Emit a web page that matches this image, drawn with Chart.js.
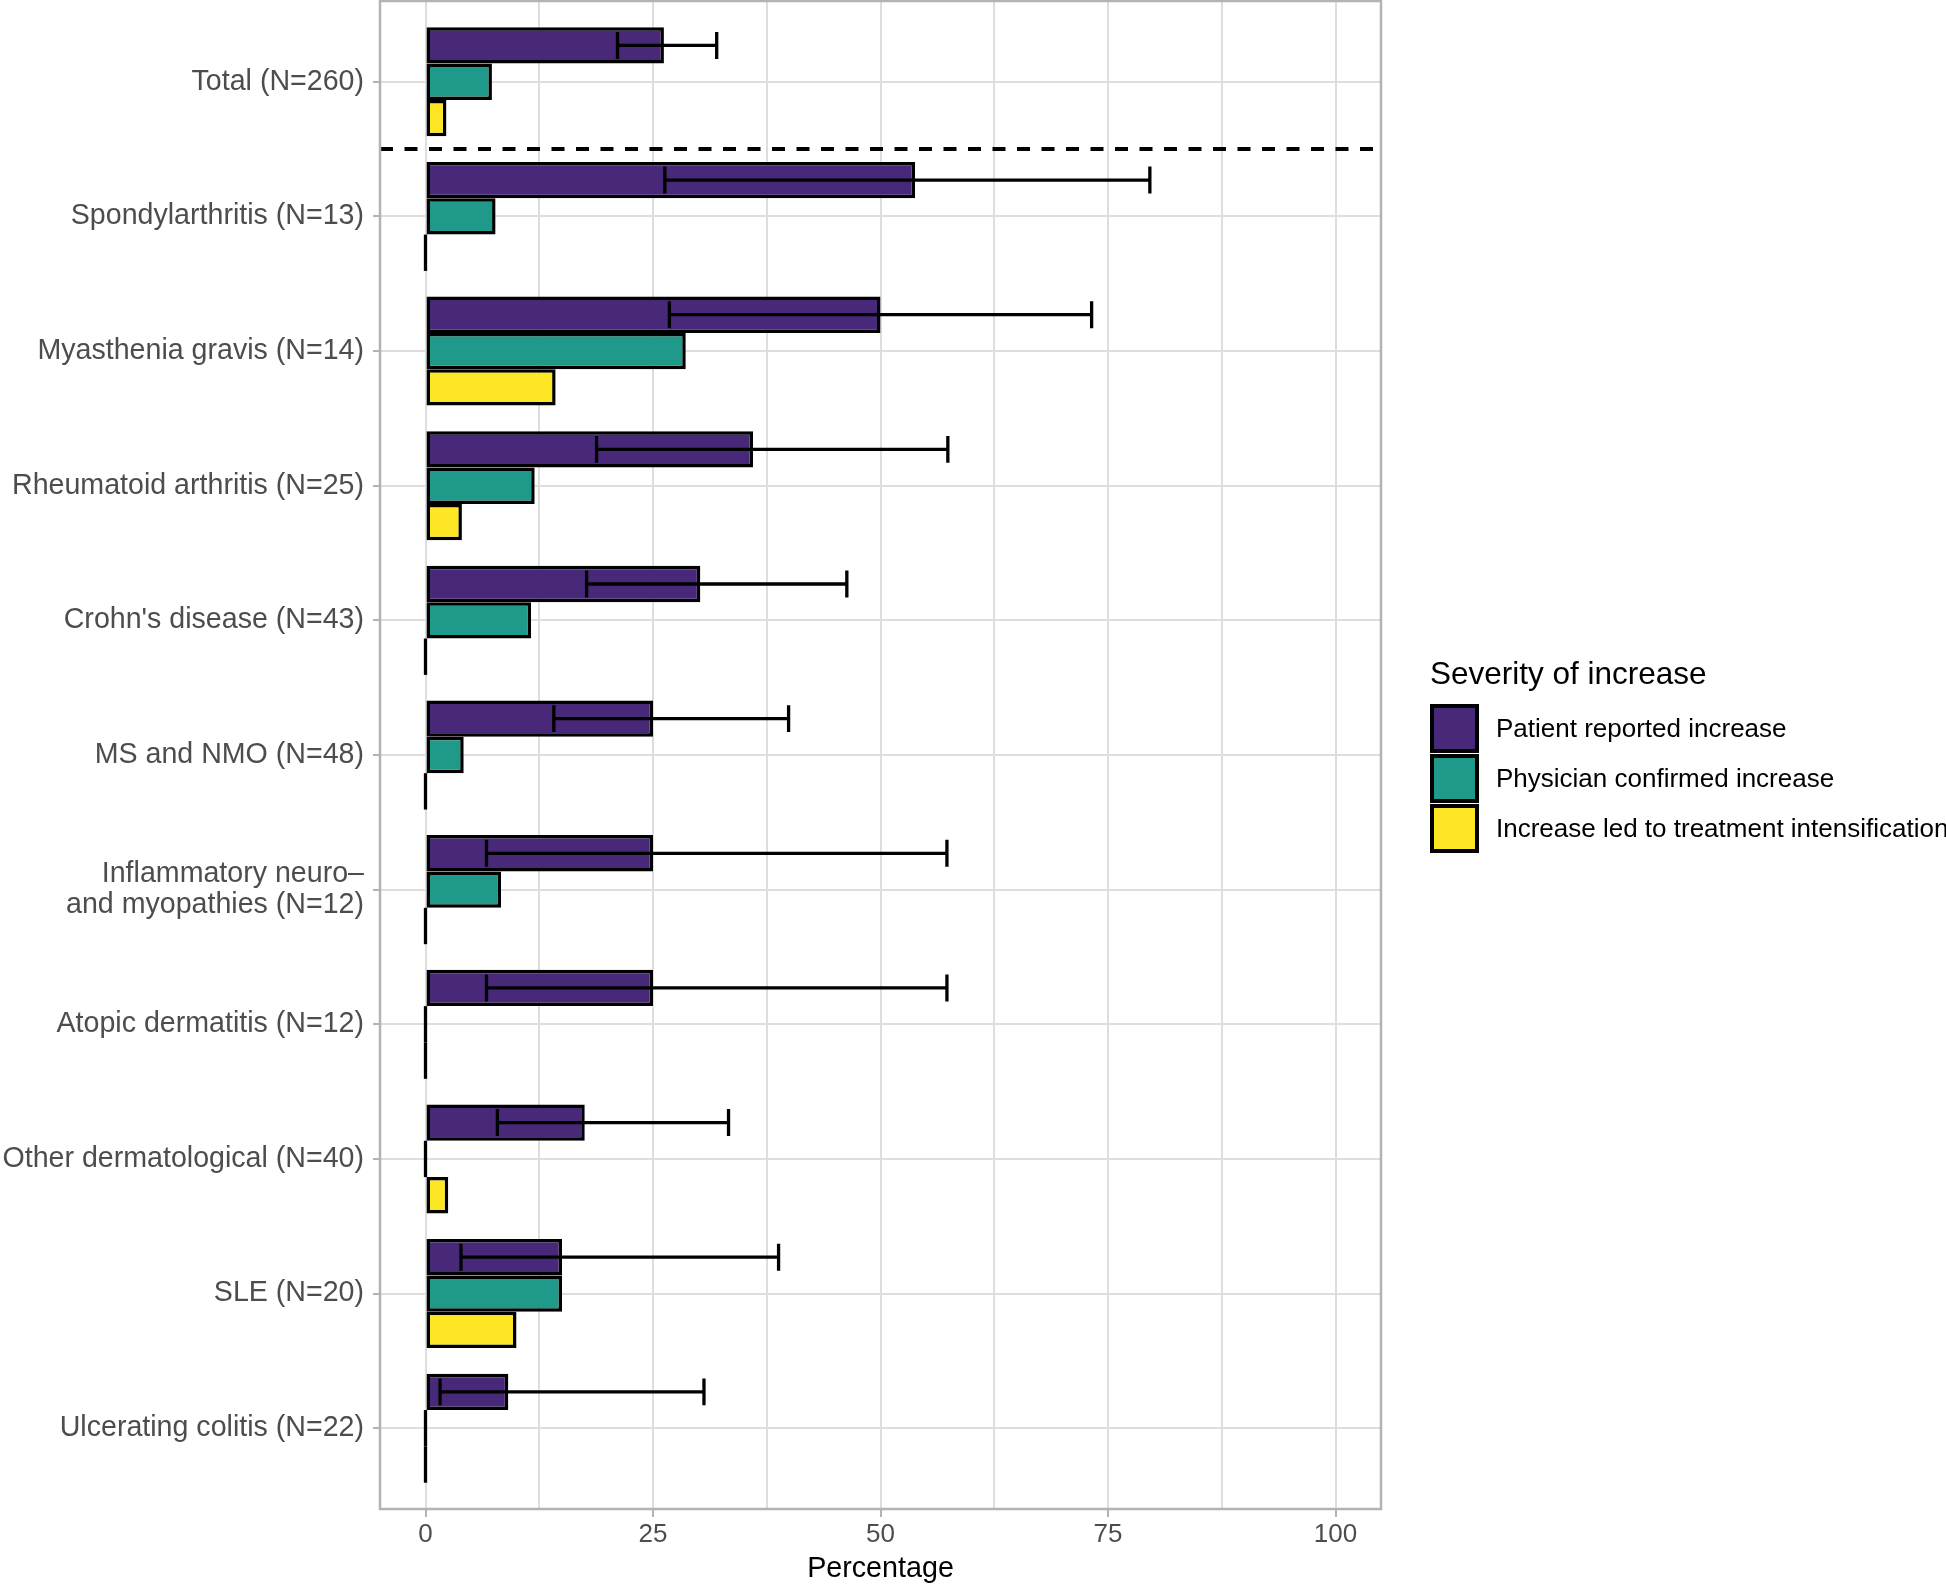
<!DOCTYPE html>
<html>
<head>
<meta charset="utf-8">
<script src="https://cdn.jsdelivr.net/npm/chart.js@4.4.1/dist/chart.umd.min.js"></script>
<style>
  body { margin: 0; background: #fff; font-family: "Liberation Sans", Arial, sans-serif; }
  #wrap { position: relative; width: 1946px; height: 1586px; }
  #legend { position: absolute; left: 1430px; top: 653px; color: #000; white-space: nowrap; }
  #legend .title { font-size: 31.5px; line-height: 40px; margin-bottom: 10px; }
  #legend .row { display: flex; align-items: center; height: 50px; }
  #legend .key { box-sizing: border-box; width: 49px; height: 49px; border: 4px solid #000; margin-right: 17px; }
  #legend .lab { font-size: 26px; }
</style>
</head>
<body>
<div id="wrap">
  <canvas id="chart" width="1946" height="1586"></canvas>
  <div id="legend"></div>
</div>
<script>
const categories = [
  "Total (N=260)",
  "Spondylarthritis (N=13)",
  "Myasthenia gravis (N=14)",
  "Rheumatoid arthritis (N=25)",
  "Crohn's disease (N=43)",
  "MS and NMO (N=48)",
  ["Inflammatory neuro–", "and myopathies (N=12)"],
  "Atopic dermatitis (N=12)",
  "Other dermatological (N=40)",
  "SLE (N=20)",
  "Ulcerating colitis (N=22)"
];
const seriesNames = ["Patient reported increase", "Physician confirmed increase", "Increase led to treatment intensification"];
const seriesColors = ["#482878", "#1f9a8a", "#fde725"];

const patientReported = [26.2, 53.8, 50.0, 36.0, 30.2, 25.0, 25.0, 25.0, 17.5, 15.0, 9.1];
const physicianConfirmed = [7.3, 7.7, 28.6, 12.0, 11.6, 4.2, 8.3, 0, 0, 15.0, 0];
const treatmentIntensified = [2.3, 0, 14.3, 4.0, 0, 0, 0, 0, 2.5, 10.0, 0];
// confidence interval for patient reported increase
const ciLower = [21.1, 26.3, 26.8, 18.8, 17.7, 14.1, 6.7, 6.7, 7.9, 3.9, 1.6];
const ciUpper = [32.0, 79.6, 73.2, 57.4, 46.3, 39.9, 57.3, 57.3, 33.3, 38.8, 30.6];

const xTicks = [0, 12.5, 25, 37.5, 50, 62.5, 75, 87.5, 100];
const xTickLabels = ["0", "", "25", "", "50", "", "75", "", "100"];

const seriesValues = [patientReported, physicianConfirmed, treatmentIntensified];

// legend
const legend = document.getElementById('legend');
legend.innerHTML = '<div class="title">Severity of increase</div>' +
  seriesNames.map((n, i) =>
    `<div class="row"><div class="key" style="background:${seriesColors[i]}"></div><div class="lab">${n}</div></div>`
  ).join('');

const extras = {
  id: 'extras',
  afterDatasetsDraw(chart) {
    const { ctx, chartArea: a, scales: { x, y } } = chart;
    ctx.save();
    ctx.strokeStyle = '#000';
    ctx.lineWidth = 3.3;
    // zero-length bars still show their outline at 0
    chart.data.datasets.forEach((ds, di) => {
      const meta = chart.getDatasetMeta(di);
      ds.data.forEach((d, i) => {
        if (d.x !== 0) return;
        const bar = meta.data[i];
        const x0 = x.getPixelForValue(0);
        ctx.beginPath();
        ctx.moveTo(x0, bar.y - bar.height / 2);
        ctx.lineTo(x0, bar.y + bar.height / 2);
        ctx.stroke();
      });
    });
    // error bars
    const meta0 = chart.getDatasetMeta(0);
    const cap = Math.abs(y.getPixelForValue(0.1) - y.getPixelForValue(0));
    ciLower.forEach((lo, i) => {
      const cy = meta0.data[i].y;
      const x0 = x.getPixelForValue(lo);
      const x1 = x.getPixelForValue(ciUpper[i]);
      ctx.beginPath();
      ctx.moveTo(x0, cy); ctx.lineTo(x1, cy);
      ctx.moveTo(x0, cy - cap); ctx.lineTo(x0, cy + cap);
      ctx.moveTo(x1, cy - cap); ctx.lineTo(x1, cy + cap);
      ctx.stroke();
    });
    // separator between total and groups
    ctx.lineWidth = 4;
    ctx.setLineDash([13, 11.5]);
    const yd = y.getPixelForValue(0.5);
    ctx.beginPath();
    ctx.moveTo(a.left, yd); ctx.lineTo(a.right, yd);
    ctx.stroke();
    ctx.setLineDash([]);
    // panel border
    ctx.strokeStyle = '#b3b3b3';
    ctx.lineWidth = 2.5;
    ctx.strokeRect(a.left, a.top, a.right - a.left, a.bottom - a.top);
    ctx.restore();
  }
};

new Chart(document.getElementById('chart'), {
  type: 'bar',
  data: {
    datasets: seriesValues.map((vals, si) => ({
      label: seriesNames[si],
      data: vals.map((v, i) => ({ x: v, y: i })),
      backgroundColor: seriesColors[si],
      borderColor: '#000',
      borderWidth: 3.5,
      borderSkipped: false,
      barPercentage: 1,
      categoryPercentage: 0.81
    }))
  },
  options: {
    indexAxis: 'y',
    responsive: false,
    animation: false,
    devicePixelRatio: 1,
    layout: { padding: { top: 1, right: 565, left: 0, bottom: 0 } },
    plugins: { legend: { display: false }, tooltip: { enabled: false } },
    scales: {
      x: {
        type: 'linear',
        min: -5, max: 105,
        afterBuildTicks: s => { s.ticks = xTicks.map(v => ({ value: v })); },
        afterFit: s => { s.height = 77; },
        ticks: {
          callback: v => xTickLabels[xTicks.indexOf(v)],
          font: { family: 'Liberation Sans', size: 26 },
          color: '#4d4d4d',
          padding: 2,
          maxRotation: 0,
          autoSkip: false
        },
        grid: {
          color: '#dedede',
          lineWidth: 2,
          tickLength: 8,
          tickColor: c => (c.tick && c.tick.value % 25 === 0) ? '#b3b3b3' : 'rgba(0,0,0,0)'
        },
        border: { display: false },
        title: {
          display: true,
          text: 'Percentage',
          font: { family: 'Liberation Sans', size: 28.7 },
          color: '#000',
          padding: 0
        }
      },
      y: {
        type: 'linear',
        reverse: true,
        offset: false,
        min: -0.6, max: 10.6,
        afterBuildTicks: s => { s.ticks = categories.map((c, i) => ({ value: i })); },
        afterFit: s => { s.width = 380; s.paddingTop = 0; s.paddingBottom = 0; },
        ticks: {
          callback: v => categories[v],
          font: { family: 'Liberation Sans', size: 28.6, lineHeight: 1.08 },
          color: '#4d4d4d',
          padding: 9,
          autoSkip: false
        },
        grid: {
          offset: false,
          color: '#dedede',
          lineWidth: 2,
          tickLength: 7,
          tickColor: '#b3b3b3'
        },
        border: { display: false }
      }
    }
  },
  plugins: [extras]
});
</script>
</body>
</html>
